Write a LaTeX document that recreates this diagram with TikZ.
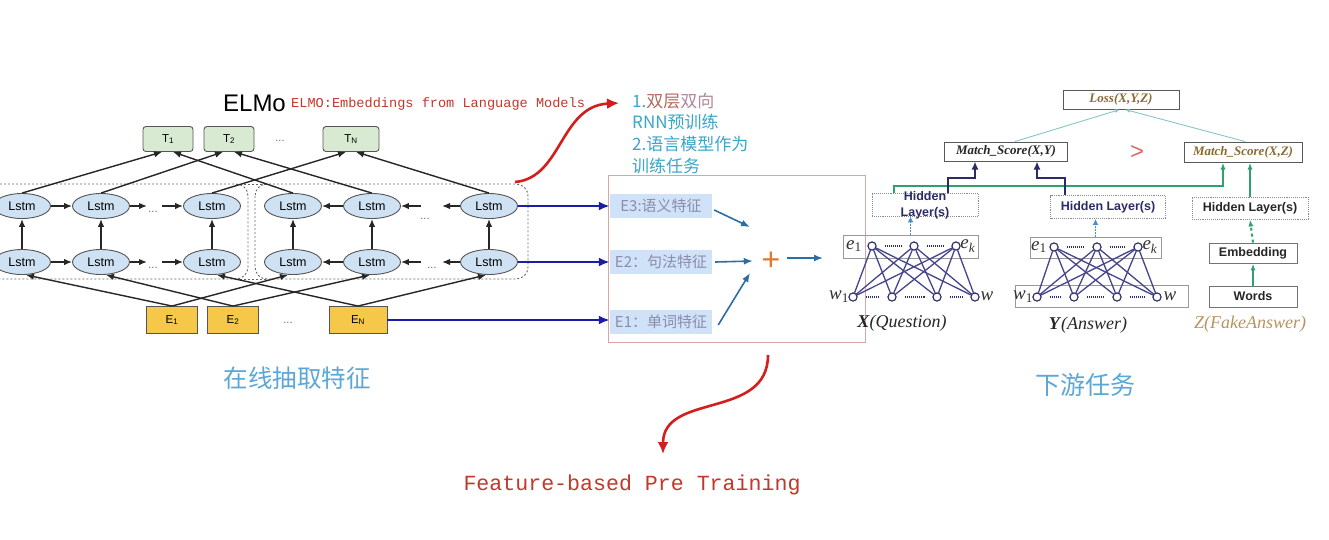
\documentclass[tikz,border=0pt]{standalone}
\usepackage{fontspec}
\setmainfont{Liberation Serif}
\setsansfont{Liberation Sans}
\setmonofont{Liberation Mono}
\newfontfamily\cjk{Noto Sans CJK SC}
\usetikzlibrary{arrows.meta,calc,shapes.geometric}
\definecolor{lstmfill}{HTML}{CFE2F3}
\definecolor{tfill}{HTML}{D9EAD3}
\definecolor{efill}{HTML}{F5C84A}
\definecolor{boxdraw}{HTML}{555555}
\definecolor{darkblue}{HTML}{1C1CA8}
\definecolor{steel}{HTML}{2E6DA4}
\definecolor{redarrc}{HTML}{D41E1E}
\definecolor{redtxt}{HTML}{C0392B}
\definecolor{tealtxt}{HTML}{3AA6C8}
\definecolor{cnblue}{HTML}{5BA7D8}
\definecolor{labfill}{HTML}{CFE2F7}
\definecolor{labtxt}{HTML}{8C8CAE}
\definecolor{plusor}{HTML}{E8772E}
\definecolor{pinkbox}{HTML}{D9A6A6}
\definecolor{navy}{HTML}{2B2B66}
\definecolor{netline}{HTML}{45458A}
\definecolor{mygreen}{HTML}{2FA06E}
\definecolor{tealthin}{HTML}{86C6C6}
\definecolor{tantxt}{HTML}{B8935F}
\definecolor{browntxt}{HTML}{8A6A35}
\definecolor{dotblue}{HTML}{4A90C8}
\definecolor{gtred}{HTML}{E06A6A}
\definecolor{brred}{HTML}{B06A5E}
\definecolor{mauve}{HTML}{B08898}
\begin{document}
\begin{tikzpicture}[x=1pt,y=-1pt,
  lstm/.style={ellipse, draw=boxdraw, fill=lstmfill, line width=0.9pt, minimum width=57pt, minimum height=25pt, inner sep=0pt, font=\sffamily\fontsize{12.5}{14}\selectfont},
  tbox/.style={draw=boxdraw, fill=tfill, rounded corners=3pt, line width=0.9pt, minimum height=25pt, inner sep=0pt, font=\sffamily\fontsize{11.5}{13}\selectfont},
  ebox/.style={draw=boxdraw, fill=efill, line width=0.9pt, minimum height=27pt, inner sep=0pt, font=\sffamily\fontsize{11.5}{13}\selectfont},
  dotsn/.style={inner sep=0pt, text=black!60, font=\sffamily\fontsize{11}{12}\selectfont},
  arr/.style={-{Latex[length=8pt,width=6.5pt]}, line width=1.4pt, black!85},
  dashbox/.style={draw=black!60, dash pattern=on 2pt off 2pt, line width=0.9pt, rounded corners=12pt},
  bluearr/.style={-{Latex[length=11pt,width=9pt]}, line width=2.2pt, darkblue},
  lab/.style={fill=labfill, text=labtxt, minimum width=102pt, minimum height=24pt, inner sep=0pt, font=\cjk\fontsize{15}{17}\selectfont},
  steelarr/.style={-{Latex[length=9pt,width=7pt]}, line width=1.6pt, steel},
  redarrow/.style={line width=2.6pt, redarrc, -{Latex[length=12pt,width=11pt]}},
  rbox/.style={draw=black!65, line width=1pt, inner sep=0pt, font=\fontsize{13}{14}\selectfont},
  hlbox/.style={draw=black!45, densely dotted, line width=0.9pt, inner sep=0pt, text=navy, font=\sffamily\bfseries\fontsize{12.5}{14}\selectfont},
  sbox/.style={draw=black!55, line width=0.9pt, inner sep=0pt, text=black!85, font=\sffamily\bfseries\fontsize{12.5}{14}\selectfont},
  lbox/.style={draw=black!40, line width=0.9pt, inner sep=0pt},
  cnode/.style={circle, draw=navy, fill=white, minimum size=8pt, inner sep=0pt, line width=1pt},
  netl/.style={line width=1.3pt, netline},
  mlab/.style={inner sep=0pt, text=black!80, font=\fontsize{19}{20}\selectfont},
  ndots/.style={densely dotted, line width=1.1pt, navy, shorten >=8pt, shorten <=8pt},
  dotarr/.style={densely dotted, line width=1.8pt, dotblue, -{Latex[length=6pt,width=6pt]}},
  garr/.style={line width=2pt, mygreen, -{Latex[length=7pt,width=5pt]}},
  parr/.style={line width=2pt, navy, -{Latex[length=8pt,width=7pt]}},
  tarr/.style={line width=0.9pt, tealthin, -{Latex[length=5pt,width=4pt]}},
  cntxt/.style={inner sep=0pt, anchor=west, font=\cjk\fontsize{17}{19}\selectfont}
]
\useasboundingbox (0,0) rectangle (1329,539);
\begin{scope}
\clip (0,0) rectangle (1329,539);
\fill[white] (0,0) rectangle (1329,539);

% ---------------- ELMo ----------------
\node[inner sep=0pt, font=\sffamily\fontsize{24}{26}\selectfont] (elmo) at (254.5,103) {ELMo};
\node[inner sep=0pt, anchor=west, text=redtxt, font=\ttfamily\fontsize{13.6}{15}\selectfont] (elmot) at (291,104) {ELMO:Embeddings from Language Models};

\draw[dashbox] (-20,184) rectangle (248,279);
\draw[dashbox] (255,184) rectangle (528,279);
\draw[draw=black!60, dash pattern=on 2pt off 2pt, line width=0.9pt] (236,184) -- (267,184);
\draw[draw=black!60, dash pattern=on 2pt off 2pt, line width=0.9pt] (236,279) -- (267,279);

\node[tbox, minimum width=50pt] (t1) at (168,139) {T\textsubscript{1}};
\node[tbox, minimum width=50pt] (t2) at (229,139) {T\textsubscript{2}};
\node[tbox, minimum width=56pt] (tn) at (351,139) {T\textsubscript{N}};
\node[dotsn] (td) at (280,141) {...};

\foreach \n/\x in {1/22,2/101,3/212,4/293,5/372,6/489}{
  \node[lstm] (a\n) at (\x,206) {Lstm};
  \node[lstm] (b\n) at (\x,262) {Lstm};
}
\node[dotsn] (ad1) at (153,212) {...};
\node[dotsn] (bd1) at (153,268) {...};
\node[dotsn] (ad2) at (425,219) {...};
\node[dotsn] (bd2) at (432,268) {...};

\node[ebox, minimum width=51pt] (e1) at (172,320) {E\textsubscript{1}};
\node[ebox, minimum width=51pt] (e2) at (233,320) {E\textsubscript{2}};
\node[ebox, minimum width=58pt] (en) at (358,320) {E\textsubscript{N}};
\node[dotsn] (ed) at (288,323) {...};

% horizontal
\coordinate (fa2) at (147,206); \coordinate (fa3) at (162,206);
\coordinate (fb2) at (147,262); \coordinate (fb3) at (162,262);
\coordinate (ga6) at (442,206); \coordinate (ga5) at (421,206);
\coordinate (gb6) at (442,262); \coordinate (gb5) at (421,262);
\draw[arr] (a1) -- (a2); \draw[arr] (a2) -- (fa2); \draw[arr] (fa3) -- (a3);
\draw[arr] (b1) -- (b2); \draw[arr] (b2) -- (fb2); \draw[arr] (fb3) -- (b3);
\draw[arr] (a6) -- (ga6); \draw[arr] (ga5) -- (a5); \draw[arr] (a5) -- (a4);
\draw[arr] (b6) -- (gb6); \draw[arr] (gb5) -- (b5); \draw[arr] (b5) -- (b4);
% vertical
\foreach \n in {1,...,6}{ \draw[arr] (b\n) -- (a\n); }
% to T
\draw[arr] (a1.north) -- ($(t1.south)+(-6,0)$);
\draw[arr] (a4.north) -- ($(t1.south)+(5,0)$);
\draw[arr] (a2.north) -- ($(t2.south)+(-6,0)$);
\draw[arr] (a5.north) -- ($(t2.south)+(5,0)$);
\draw[arr] (a3.north) -- ($(tn.south)+(-5,0)$);
\draw[arr] (a6.north) -- ($(tn.south)+(5,0)$);
% from E
\draw[arr] (e1.north) -- ($(b1.south)+(4,0)$);
\draw[arr] (e1.north) -- ($(b4.south)+(-5,0)$);
\draw[arr] (e2.north) -- ($(b2.south)+(5,0)$);
\draw[arr] (e2.north) -- ($(b5.south)+(-2,0)$);
\draw[arr] (en.north) -- ($(b3.south)+(5,0)$);
\draw[arr] (en.north) -- ($(b6.south)+(-3,0)$);

% ---------------- middle ----------------
\node[draw=pinkbox, line width=0.8pt, minimum width=257pt, minimum height=167pt, inner sep=0pt] (fbox) at (736.5,258.5) {};
\node[lab] (l3) at (661,206) {E3:语义特征};
\node[lab] (l2) at (661,262) {E2：句法特征};
\node[lab] (l1) at (661,322) {E1：单词特征};

\draw[bluearr] (a6) -- (a6 -| l3.west);
\draw[bluearr] (b6) -- (b6 -| l2.west);
\draw[bluearr] (en) -- (en -| l1.west);

\node[inner sep=0pt, text=plusor, minimum size=22pt, font=\sffamily\fontsize{32}{32}\selectfont] (plus) at (771,261) {+};
\coordinate (outp) at (823,258);
\draw[steelarr] ($(l3.east)+(2,4)$) -- ($(plus)+(-21,-34)$);
\draw[steelarr] ($(l2.east)+(3,0)$) -- ($(plus.west)+(-7,0)$);
\draw[steelarr] ($(l1.east)+(6,3)$) -- ($(plus)+(-21,12)$);
\draw[steelarr] ($(plus)+(16,-3)$) -- (outp);

\node[cntxt] (c1) at (632,101) {\textcolor{tealtxt}{1.}\textcolor{brred}{双层}\textcolor{mauve}{双向}};
\node[cntxt, text=tealtxt] (c2) at (632,122) {RNN预训练};
\node[cntxt, text=tealtxt] (c3) at (632,144) {2.语言模型作为};
\node[cntxt, text=tealtxt] (c4) at (632,166) {训练任务};

\coordinate (r1s) at (515,182); \coordinate (r1e) at (619,103);
\draw[redarrow] (r1s) .. controls (562,178) and (560,106) .. (r1e);
\coordinate (r2s) at (768,355); \coordinate (r2e) at (663,454);
\draw[redarrow] (r2s) .. controls (768,420) and (663,392) .. (r2e);

\node[inner sep=0pt, text=redtxt, font=\ttfamily\fontsize{21.6}{24}\selectfont] (fbt) at (632,485) {Feature-based Pre Training};
\node[inner sep=0pt, text=cnblue, font=\cjk\fontsize{24.5}{26}\selectfont] (zx) at (297,378) {在线抽取特征};
\node[inner sep=0pt, text=cnblue, font=\cjk\fontsize{25}{27}\selectfont] (xy) at (1085,385) {下游任务};

% ---------------- right ----------------
\node[rbox, minimum width=116pt, minimum height=19pt, text=browntxt] (loss) at (1121,99.5) {\textbf{\textit{Loss(X,Y,Z)}}};
\node[rbox, minimum width=123pt, minimum height=19pt, text=black!85] (msxy) at (1006,151.5) {\textbf{\textit{Match\_Score(X,Y)}}};
\node[rbox, minimum width=118pt, minimum height=20pt, text=browntxt] (msxz) at (1243,152) {\textbf{\textit{Match\_Score(X,Z)}}};
\node[inner sep=0pt, text=gtred, font=\sffamily\fontsize{24}{26}\selectfont] (gt) at (1137,152) {>};

\node[hlbox, minimum width=106pt, minimum height=23pt] (hx) at (925,204.5) {};
\node[inner sep=0pt, align=center, text=navy, font=\sffamily\bfseries\fontsize{12.5}{16}\selectfont] (hxt) at (925,205) {Hidden\\Layer(s)};
\node[hlbox, minimum width=115pt, minimum height=23pt] (hy) at (1108,207) {Hidden Layer(s)};
\node[hlbox, minimum width=116pt, minimum height=22pt, text=black!85] (hz) at (1250,208) {Hidden Layer(s)};
\node[sbox, minimum width=88pt, minimum height=20pt] (emb) at (1253,253) {Embedding};
\node[sbox, minimum width=88pt, minimum height=21pt] (words) at (1253,296.5) {Words};

\node[lbox, minimum width=135pt, minimum height=23pt] (ex) at (910.5,246.5) {};
\node[lbox, minimum width=131pt, minimum height=21pt] (ey) at (1095.5,247.5) {};
\node[lbox, minimum width=173pt, minimum height=22pt] (wy) at (1101.5,296) {};

\foreach \n/\x in {1/872,2/914,3/956}{ \node[cnode] (xt\n) at (\x,246) {}; }
\foreach \n/\x in {1/853,2/892,3/937,4/975}{ \node[cnode] (xb\n) at (\x,297) {}; }
\foreach \n/\x in {1/1054,2/1097,3/1138}{ \node[cnode] (yt\n) at (\x,247) {}; }
\foreach \n/\x in {1/1037,2/1074,3/1117,4/1157}{ \node[cnode] (yb\n) at (\x,297) {}; }
\foreach \t in {1,2,3}{ \foreach \b in {1,2,3,4}{
  \draw[netl] (xt\t) -- (xb\b);
  \draw[netl] (yt\t) -- (yb\b);
}}
\draw[ndots] (xt1) -- (xt2); \draw[ndots] (xt2) -- (xt3);
\draw[ndots] (xb1) -- (xb2); \draw[ndots] (xb2) -- (xb3); \draw[ndots] (xb3) -- (xb4);
\draw[ndots] (yt1) -- (yt2); \draw[ndots] (yt2) -- (yt3);
\draw[ndots] (yb1) -- (yb2); \draw[ndots] (yb2) -- (yb3); \draw[ndots] (yb3) -- (yb4);
\foreach \n/\x in {1/872,2/914,3/956}{ \node[cnode] at (\x,246) {}; }
\foreach \n/\x in {1/853,2/892,3/937,4/975}{ \node[cnode] at (\x,297) {}; }
\foreach \n/\x in {1/1054,2/1097,3/1138}{ \node[cnode] at (\x,247) {}; }
\foreach \n/\x in {1/1037,2/1074,3/1117,4/1157}{ \node[cnode] at (\x,297) {}; }

\node[mlab] (xe1) at (854,246) {\textit{e}\textsubscript{1}};
\node[mlab] (xek) at (968,246) {\textit{e}\textsubscript{\textit{k}}};
\node[mlab] (xw1) at (839,297) {\textit{w}\textsubscript{1}};
\node[mlab] (xw) at (987,296) {\textit{w}};
\node[mlab] (ye1) at (1039,247) {\textit{e}\textsubscript{1}};
\node[mlab] (yek) at (1150,247) {\textit{e}\textsubscript{\textit{k}}};
\node[mlab] (yw1) at (1023,297) {\textit{w}\textsubscript{1}};
\node[mlab] (yw) at (1170,296) {\textit{w}};

\node[inner sep=0pt, text=black!85, font=\fontsize{18}{20}\selectfont] (xq) at (902,323) {\textbf{\textit{X}}\textit{(Question)}};
\node[inner sep=0pt, text=black!85, font=\fontsize{18}{20}\selectfont] (ya) at (1088,325) {\textbf{\textit{Y}}\textit{(Answer)}};
\node[inner sep=0pt, text=tantxt, font=\fontsize{18}{20}\selectfont] (zf) at (1250,324) {\textit{Z(FakeAnswer)}};

\draw[dotarr] (ex.north) -- (ex.north |- hx.south);
\draw[dotarr] (ey.north) -- (ey.north |- hy.south);

\draw[garr] ($(hx.north west)+(22,0)$) -- ++(0,-7) -| ($(msxz.south)+(-20,0)$);
\draw[garr] (hz.north) -- (hz.north |- msxz.south);
\draw[garr, dashed] (emb.north) -- (hz.south);
\draw[garr] (words.north) -- (emb.south);

\draw[parr] ($(hx.north)+(23,0)$) -- ++(0,-15) -| ($(msxy.south)+(-31,0)$);
\draw[parr] ($(hy.north)+(-43,0)$) -- ++(0,-17) -| ($(msxy.south)+(31,0)$);

\draw[tarr] ($(msxy.north)+(9,0)$) -- ($(loss.south)+(-1,0)$);
\draw[tarr] ($(msxz.north)+(2,0)$) -- ($(loss.south)+(4,0)$);
\end{scope}
\end{tikzpicture}
\end{document}
